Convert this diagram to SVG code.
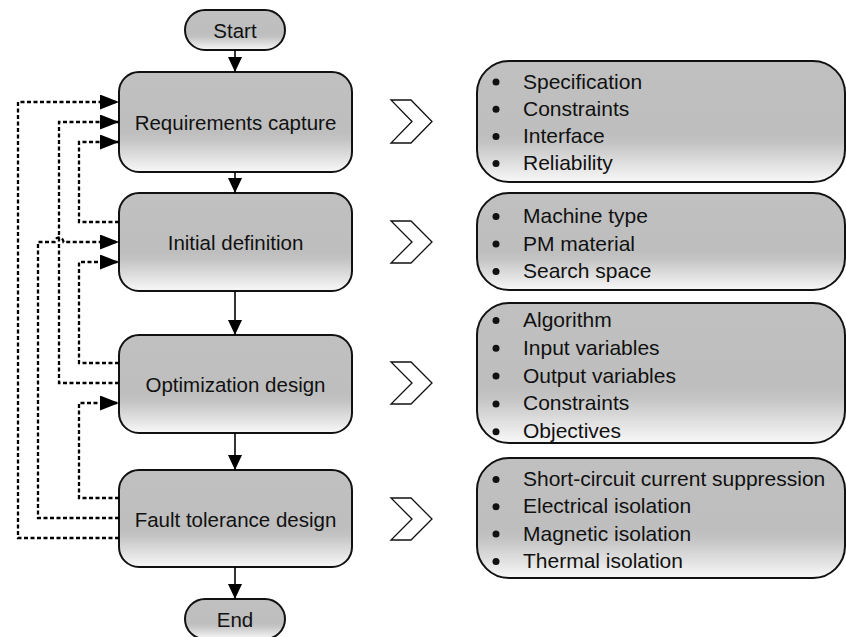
<svg xmlns="http://www.w3.org/2000/svg" width="846" height="637" viewBox="0 0 846 637">
  <style>
    .box { fill: url(#shade); stroke: #111; stroke-width: 2; }
    .label { font-family: "Liberation Sans", Arial, sans-serif; font-size: 20.5px; fill: #111; text-anchor: middle; }
    .item { font-family: "Liberation Sans", Arial, sans-serif; font-size: 21px; fill: #111; }
    .dot { fill: #111; }
    .chev { fill: #fff; stroke: #111; stroke-width: 1.3; stroke-linejoin: miter; }
    .flow { fill: none; stroke: #000; stroke-width: 1.6; }
    .loop { fill: none; stroke: #000; stroke-width: 2.3; stroke-dasharray: 4 2.5; }
  </style>
  <defs>
    <linearGradient id="shade" x1="0" y1="0" x2="0" y2="1">
      <stop offset="0" stop-color="#c0c0c0"/>
      <stop offset="0.6" stop-color="#bebebe"/>
      <stop offset="0.68" stop-color="#c4c4c4"/>
      <stop offset="1" stop-color="#f8f8f8"/>
    </linearGradient>
    <marker id="headSolid" markerUnits="userSpaceOnUse" markerWidth="15" markerHeight="14" viewBox="0 0 15 14" refX="15" refY="7" orient="auto">
      <path d="M0,0 L15,7 L0,14 Z" fill="#000" stroke="none"/>
    </marker>
    <marker id="headLoop" markerUnits="userSpaceOnUse" markerWidth="19" markerHeight="15" viewBox="0 0 19 15" refX="19" refY="7.5" orient="auto">
      <path d="M0,0 L19,7.5 L0,15 Z" fill="#000" stroke="none"/>
    </marker>
  </defs>

  <!-- main process nodes -->
  <g id="start">
    <rect class="box" x="185" y="10" width="100" height="40" rx="20"/>
    <text class="label" x="235" y="37.5" font-size="20">Start</text>
  </g>
  <g id="requirements">
    <rect class="box" x="119" y="72" width="233" height="100" rx="20"/>
    <text class="label" x="235.5" y="130">Requirements capture</text>
  </g>
  <g id="initial">
    <rect class="box" x="119" y="193" width="233" height="98" rx="20"/>
    <text class="label" x="235.5" y="250">Initial definition</text>
  </g>
  <g id="optimization">
    <rect class="box" x="119" y="335" width="233" height="98" rx="20"/>
    <text class="label" x="235.5" y="392">Optimization design</text>
  </g>
  <g id="fault">
    <rect class="box" x="119" y="470" width="233" height="97" rx="20"/>
    <text class="label" x="235.5" y="527">Fault tolerance design</text>
  </g>
  <g id="end">
    <rect class="box" x="185" y="599" width="100" height="40" rx="20"/>
    <text class="label" x="235" y="627" font-size="20">End</text>
  </g>

  <!-- detail chevrons -->
  <g id="chevron-1"><path class="chev" d="M391,100 H411 L432,121.5 L411,143 H391 L412,121.5 Z"/></g>
  <g id="chevron-2"><path class="chev" d="M391,221 H411 L432,242 L411,263 H391 L412,242 Z"/></g>
  <g id="chevron-3"><path class="chev" d="M391,362 H411 L432,383 L411,404 H391 L412,383 Z"/></g>
  <g id="chevron-4"><path class="chev" d="M391,498 H411 L432,519 L411,540 H391 L412,519 Z"/></g>

  <!-- detail lists -->
  <g id="details-requirements">
    <rect class="box" x="477" y="61" width="368" height="121" rx="32"/>
    <circle class="dot" cx="496" cy="82" r="3.5"/>
    <circle class="dot" cx="496" cy="109.2" r="3.5"/>
    <circle class="dot" cx="496" cy="136.4" r="3.5"/>
    <circle class="dot" cx="496" cy="163.6" r="3.5"/>
    <text class="item" x="523" y="88.5">Specification</text>
    <text class="item" x="523" y="115.7">Constraints</text>
    <text class="item" x="523" y="142.9">Interface</text>
    <text class="item" x="523" y="170.1">Reliability</text>
  </g>
  <g id="details-initial">
    <rect class="box" x="477" y="193" width="368" height="97" rx="32"/>
    <circle class="dot" cx="496" cy="216.5" r="3.5"/>
    <circle class="dot" cx="496" cy="244" r="3.5"/>
    <circle class="dot" cx="496" cy="271.5" r="3.5"/>
    <text class="item" x="523" y="223">Machine type</text>
    <text class="item" x="523" y="250.5">PM material</text>
    <text class="item" x="523" y="278">Search space</text>
  </g>
  <g id="details-optimization">
    <rect class="box" x="477" y="303" width="368" height="140" rx="32"/>
    <circle class="dot" cx="496" cy="320.5" r="3.5"/>
    <circle class="dot" cx="496" cy="348.3" r="3.5"/>
    <circle class="dot" cx="496" cy="376.1" r="3.5"/>
    <circle class="dot" cx="496" cy="403.9" r="3.5"/>
    <circle class="dot" cx="496" cy="431.7" r="3.5"/>
    <text class="item" x="523" y="327">Algorithm</text>
    <text class="item" x="523" y="354.8">Input variables</text>
    <text class="item" x="523" y="382.6">Output variables</text>
    <text class="item" x="523" y="410.4">Constraints</text>
    <text class="item" x="523" y="438.2">Objectives</text>
  </g>
  <g id="details-fault">
    <rect class="box" x="477" y="458" width="368" height="120" rx="32"/>
    <circle class="dot" cx="496" cy="479.5" r="3.5"/>
    <circle class="dot" cx="496" cy="506.8" r="3.5"/>
    <circle class="dot" cx="496" cy="534.1" r="3.5"/>
    <circle class="dot" cx="496" cy="561.4" r="3.5"/>
    <text class="item" x="523" y="486">Short-circuit current suppression</text>
    <text class="item" x="523" y="513.3">Electrical isolation</text>
    <text class="item" x="523" y="540.6">Magnetic isolation</text>
    <text class="item" x="523" y="567.9">Thermal isolation</text>
  </g>

  <!-- connectors -->
  <g id="connectors">
    <path class="flow" d="M235,50 V72" marker-end="url(#headSolid)"/>
    <path class="flow" d="M235,172 V193" marker-end="url(#headSolid)"/>
    <path class="flow" d="M235,291 V335" marker-end="url(#headSolid)"/>
    <path class="flow" d="M235,433 V470" marker-end="url(#headSolid)"/>
    <path class="flow" d="M235,567 V599" marker-end="url(#headSolid)"/>

    <path class="loop" d="M119,222 H79 V142 H119" marker-end="url(#headLoop)"/>
    <path class="loop" d="M119,363 H79 V262 H119" marker-end="url(#headLoop)"/>
    <path class="loop" d="M119,383 H59 V122 H119" marker-end="url(#headLoop)"/>
    <path class="loop" d="M119,498 H79 V403 H119" marker-end="url(#headLoop)"/>
    <path class="loop" d="M119,518 H38 V242 H54.5 A4.5,4.5 0 0 1 63.5,242 H119" marker-end="url(#headLoop)"/>
    <path class="loop" d="M119,538 H18 V102 H119" marker-end="url(#headLoop)"/>
  </g>
</svg>
